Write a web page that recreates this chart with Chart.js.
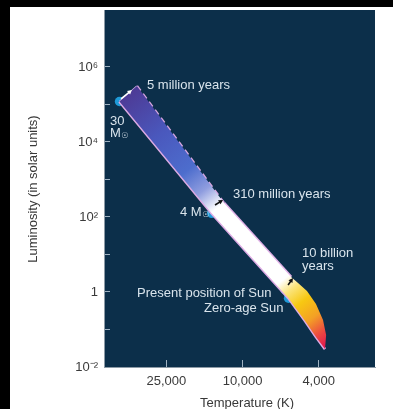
<!DOCTYPE html>
<html>
<head>
<meta charset="utf-8">
<script src="https://cdn.jsdelivr.net/npm/chart.js@4.4.1/dist/chart.umd.min.js"></script>
<style>
  html, body { margin: 0; padding: 0; background: #ffffff; overflow: hidden; }
  canvas { display: block; }
</style>
</head>
<body>
<canvas id="hr" width="393" height="409"></canvas>
<script>
// Axis ticks: surface temperature (K) and luminosity (solar units)
const tempTicks = [25000, 10000, 4000];
const lumTicks = [1e-2, 1e-1, 1, 1e1, 1e2, 1e3, 1e4, 1e5, 1e6];
const lumTickLabels = { '0.01': '10⁻²', '1': '1', '100': '10²', '10000': '10⁴', '1000000': '10⁶' };

// Zero-age main sequence (lower edge of the band), hot end to cool tip
const zamsTemp = [44000, 14500, 5750, 4710, 4130, 3705];
const zamsLum  = [1.2e5, 125, 0.68, 0.169, 0.063, 0.030];

// Far edge of the band, from the cool tip back up to the hot corner
const edgeTemp = [3705, 3656, 3795, 4130, 4604, 5126, 5575, 12500, 35650];
const edgeLum  = [0.030, 0.0713, 0.179, 0.479, 1.06, 1.74, 2.51, 236, 3.11e5];

// Marked stars
const starTemp = [44000, 14500, 6000, 5750];
const starLum  = [1.2e5, 125, 1.15, 0.68];

// Evolution arrows across the band (start -> end)
const arrowFromTemp = [43150, 13925, 5780];
const arrowFromLum  = [1.40e5, 209, 1.54];
const arrowToTemp   = [37870, 12650, 5447];
const arrowToLum    = [2.44e5, 284, 2.36];

const pts = (ts, ls) => ts.map((t, i) => ({ x: t, y: ls[i] }));

const FONT = '"Liberation Sans", Arial, Helvetica, sans-serif';
const NAVY = '#0c2f4a';
const LABEL = '#d9e4ec';

// Band body: ZAMS line out to the tip, then back along the far edge
const bandPoints = pts(zamsTemp, zamsLum).concat(pts(edgeTemp, edgeLum));

function bandGradient(context) {
  const chart = context.chart;
  if (!chart.chartArea) return 'rgba(0,0,0,0)';
  const sx = chart.scales.x, sy = chart.scales.y;
  const last = edgeTemp.length - 1;
  const x0 = (sx.getPixelForValue(zamsTemp[0]) + sx.getPixelForValue(edgeTemp[last])) / 2;
  const y0 = (sy.getPixelForValue(zamsLum[0]) + sy.getPixelForValue(edgeLum[last])) / 2;
  const x1 = sx.getPixelForValue(zamsTemp[zamsTemp.length - 1]);
  const y1 = sy.getPixelForValue(zamsLum[zamsLum.length - 1]);
  const g = chart.ctx.createLinearGradient(x0, y0, x1, y1);
  g.addColorStop(0.00, '#4d3b96');
  g.addColorStop(0.16, '#4a58bd');
  g.addColorStop(0.30, '#4d6dcd');
  g.addColorStop(0.38, '#8f9ddf');
  g.addColorStop(0.45, '#ffffff');
  g.addColorStop(0.75, '#ffffff');
  g.addColorStop(0.79, '#fbe47a');
  g.addColorStop(0.84, '#f7c812');
  g.addColorStop(0.90, '#f3a025');
  g.addColorStop(0.95, '#ec4c40');
  g.addColorStop(1.00, '#df1050');
  return g;
}

// Page frame, plot background and axis titles
const framePlugin = {
  id: 'frame',
  beforeDraw(chart) {
    const { ctx, chartArea: a } = chart;
    ctx.save();
    ctx.fillStyle = '#ffffff';
    ctx.fillRect(0, 0, chart.width, chart.height);
    ctx.fillStyle = '#000000';
    ctx.fillRect(0, 0, chart.width, 7);
    ctx.fillRect(0, 0, 10, chart.height);
    ctx.fillStyle = NAVY;
    ctx.fillRect(a.left, a.top, a.right - a.left, a.bottom - a.top);
    ctx.restore();
  },
  afterDraw(chart) {
    const { ctx } = chart;
    ctx.save();
    ctx.fillStyle = '#383838';
    ctx.font = '13px ' + FONT;
    ctx.textAlign = 'center';
    ctx.textBaseline = 'alphabetic';
    ctx.fillText('Temperature (K)', 247, 407);
    ctx.translate(37, 189);
    ctx.rotate(-Math.PI / 2);
    ctx.fillText('Luminosity (in solar units)', 0, 0);
    ctx.restore();
  }
};

// Arrows and annotation text inside the plot
const arrowColors = ['#ffffff', '#111111', '#111111'];
function solarMass(ctx, prefix, x, y) {
  ctx.font = '13px ' + FONT;
  ctx.fillText(prefix, x, y);
  const w = ctx.measureText(prefix).width;
  ctx.font = '8px "DejaVu Sans", ' + FONT;
  ctx.fillText('☉', x + w + 0.5, y + 1);
}
const notesPlugin = {
  id: 'notes',
  afterDatasetsDraw(chart) {
    const { ctx } = chart;
    const sx = chart.scales.x, sy = chart.scales.y;
    ctx.save();
    for (let i = 0; i < arrowFromTemp.length; i++) {
      const x0 = sx.getPixelForValue(arrowFromTemp[i]), y0 = sy.getPixelForValue(arrowFromLum[i]);
      const x1 = sx.getPixelForValue(arrowToTemp[i]), y1 = sy.getPixelForValue(arrowToLum[i]);
      const ang = Math.atan2(y1 - y0, x1 - x0);
      ctx.strokeStyle = arrowColors[i];
      ctx.fillStyle = arrowColors[i];
      ctx.lineWidth = 1.6;
      ctx.beginPath();
      ctx.moveTo(x0, y0);
      ctx.lineTo(x1 - 3 * Math.cos(ang), y1 - 3 * Math.sin(ang));
      ctx.stroke();
      ctx.beginPath();
      ctx.moveTo(x1, y1);
      ctx.lineTo(x1 - 5 * Math.cos(ang - 0.5), y1 - 5 * Math.sin(ang - 0.5));
      ctx.lineTo(x1 - 5 * Math.cos(ang + 0.5), y1 - 5 * Math.sin(ang + 0.5));
      ctx.closePath();
      ctx.fill();
    }
    ctx.fillStyle = LABEL;
    ctx.textAlign = 'left';
    ctx.textBaseline = 'alphabetic';
    ctx.font = '13px ' + FONT;
    ctx.fillText('5 million years', 147, 89);
    ctx.fillText('30', 110, 125);
    solarMass(ctx, 'M', 110, 137);
    ctx.font = '13px ' + FONT;
    ctx.fillText('310 million years', 233, 198);
    solarMass(ctx, '4 M', 180, 216);
    ctx.font = '13px ' + FONT;
    ctx.fillText('10 billion', 302, 257);
    ctx.fillText('years', 302, 270);
    ctx.fillText('Present position of Sun', 137, 297);
    ctx.fillText('Zero-age Sun', 204, 312);
    ctx.restore();
  }
};

new Chart(document.getElementById('hr'), {
  type: 'scatter',
  data: {
    datasets: [
      {
        data: bandPoints,
        showLine: true,
        fill: 'shape',
        backgroundColor: bandGradient,
        borderWidth: 0,
        borderColor: 'rgba(0,0,0,0)',
        pointRadius: 0,
        tension: 0
      },
      {
        data: pts(zamsTemp, zamsLum),
        showLine: true,
        borderColor: '#dcaae4',
        borderWidth: 2.8,
        pointRadius: 0,
        fill: false
      },
      {
        data: pts(edgeTemp.slice(6, 8), edgeLum.slice(6, 8)),
        showLine: true,
        borderColor: '#e2b2e8',
        borderWidth: 2.8,
        pointRadius: 0,
        fill: false
      },
      {
        data: pts(edgeTemp.slice(7), edgeLum.slice(7)),
        showLine: true,
        borderColor: '#d8a6e0',
        borderWidth: 2.5,
        borderDash: [6, 4],
        pointRadius: 0,
        fill: false
      },
      {
        data: [{ x: zamsTemp[0], y: zamsLum[0] }, { x: edgeTemp[edgeTemp.length - 1], y: edgeLum[edgeLum.length - 1] }],
        showLine: true,
        borderColor: '#cfb0e6',
        borderWidth: 1.5,
        pointRadius: 0,
        fill: false
      },
      {
        data: pts(starTemp, starLum),
        showLine: false,
        pointRadius: 4.7,
        pointBackgroundColor: '#1f9ad8',
        pointBorderWidth: 0
      }
    ]
  },
  options: {
    responsive: false,
    animation: false,
    events: [],
    layout: { padding: { top: 10, right: 18, left: 0, bottom: 0 } },
    plugins: { legend: { display: false }, tooltip: { enabled: false } },
    scales: {
      x: {
        type: 'logarithmic',
        reverse: true,
        min: 2030,
        max: 53000,
        bounds: 'data',
        afterBuildTicks(scale) { scale.ticks = tempTicks.map(v => ({ value: v })); },
        afterFit(scale) { scale.height = 42; scale.paddingLeft = 0; scale.paddingRight = 0; },
        grid: { drawOnChartArea: false, drawTicks: true, tickLength: -7, tickColor: '#9fb2c2', tickWidth: 1 },
        border: { display: true, color: '#8c9aa6', width: 1 },
        ticks: {
          autoSkip: false,
          maxRotation: 0,
          padding: 14,
          color: '#3a3a3a',
          font: { family: FONT, size: 13 },
          callback: (v) => Number(v).toLocaleString('en-US')
        }
      },
      y: {
        type: 'logarithmic',
        min: 0.01,
        max: 3.3e7,
        bounds: 'data',
        afterBuildTicks(scale) { scale.ticks = lumTicks.map(v => ({ value: v })); },
        afterFit(scale) { scale.width = 104; scale.paddingTop = 0; scale.paddingBottom = 0; },
        grid: { drawOnChartArea: false, drawTicks: true, tickLength: -6, tickColor: '#9fb2c2', tickWidth: 1 },
        border: { display: true, color: '#8c9aa6', width: 1 },
        ticks: {
          autoSkip: false,
          padding: 12,
          color: '#3a3a3a',
          font: { family: FONT, size: 13 },
          callback: (v) => lumTickLabels[String(v)] ?? ''
        }
      }
    }
  },
  plugins: [framePlugin, notesPlugin]
});
</script>
</body>
</html>
